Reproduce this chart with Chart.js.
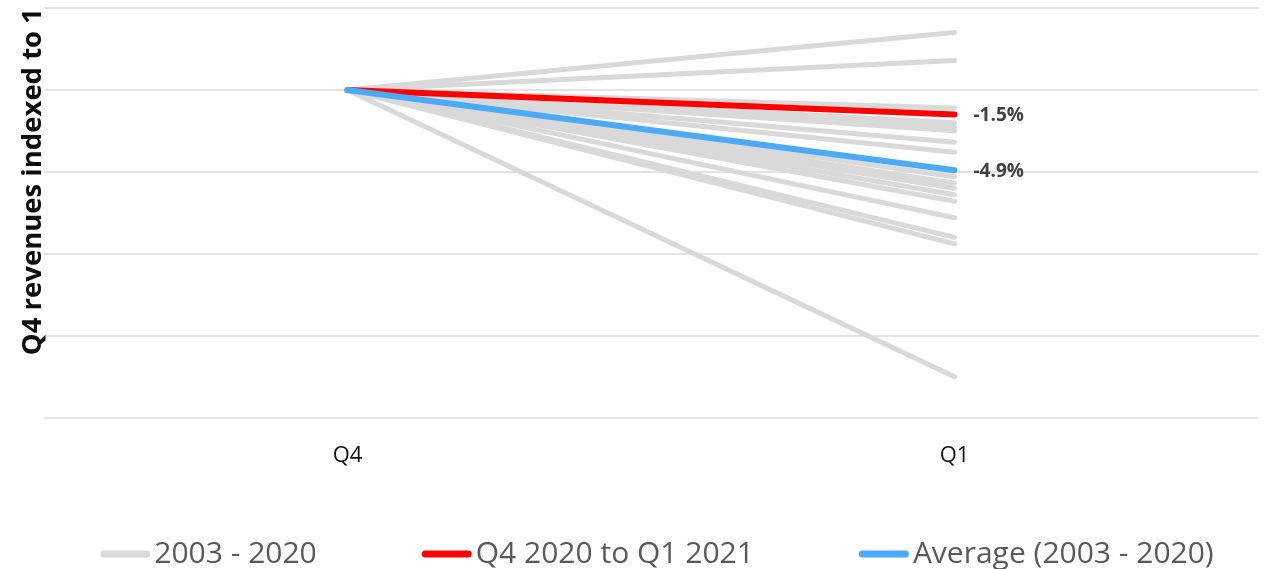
<!DOCTYPE html>
<html>
<head>
<meta charset="utf-8">
<script src="https://cdn.jsdelivr.net/npm/chart.js@4/dist/chart.umd.min.js"></script>
<style>
  html, body { margin: 0; padding: 0; background: #ffffff; }
  #wrap { width: 1266px; height: 569px; position: relative; }
</style>
</head>
<body>
<div id="wrap"><canvas id="chart"></canvas></div>
<script>
// Quarters on the x axis
const quarters = ['Q4', 'Q1'];

// Q1 revenue relative to the preceding Q4 (Q4 = 1), one line per year, 2003 - 2020
const historyQ1 = [
  1.035, 1.018, 0.989, 0.980, 0.977, 0.975, 0.968, 0.962, 0.947,
  0.943, 0.940, 0.936, 0.932, 0.922, 0.910, 0.906, 0.825
];

// Q4 2020 to Q1 2021
const latestQ1 = 0.985;

// Average over 2003 - 2020
const averageQ1 = 0.951;

// Legend entries
const legendNames = ['2003 - 2020', 'Q4 2020 to Q1 2021', 'Average (2003 - 2020)'];

const GREY = '#d9d9d9';
const RED = '#ff0000';
const BLUE = '#4aaaf5';
const legendColors = [GREY, RED, BLUE];

const datasets = historyQ1.map(v => ({
  label: legendNames[0],
  data: [1, v],
  borderColor: GREY,
  borderWidth: 5,
  order: 2
}));
datasets.push({
  label: legendNames[1],
  data: [1, latestQ1],
  borderColor: RED,
  borderWidth: 6,
  order: 1,
  showChange: true
});
datasets.push({
  label: legendNames[2],
  data: [1, averageQ1],
  borderColor: BLUE,
  borderWidth: 6,
  order: 0,
  showChange: true
});

// Writes the percentage change next to the end of the highlighted lines
const changeLabels = {
  id: 'changeLabels',
  afterDatasetsDraw(chart) {
    const ctx = chart.ctx;
    ctx.save();
    ctx.font = 'bold 19px "Open Sans"';
    ctx.fillStyle = '#404040';
    ctx.textAlign = 'left';
    ctx.textBaseline = 'middle';
    chart.data.datasets.forEach((ds, i) => {
      if (!ds.showChange) return;
      const meta = chart.getDatasetMeta(i);
      const pt = meta.data[1];
      const pct = (ds.data[1] - ds.data[0]) * 100;
      ctx.fillText(pct.toFixed(1) + '%', pt.x + 19, pt.y + 1);
    });
    ctx.restore();
  }
};

// Legend row under the chart: short line sample followed by the series name
const lineLegend = {
  id: 'lineLegend',
  afterDraw(chart) {
    const ctx = chart.ctx;
    const sampleW = 50, sampleH = 7, textGap = 4, itemGap = 105;
    ctx.save();
    ctx.font = '30px "Open Sans"';
    const widths = legendNames.map(t => ctx.measureText(t).width);
    const total = widths.reduce((a, w) => a + sampleW + textGap + w, 0) + itemGap * (legendNames.length - 1);
    const centre = (chart.chartArea.left + chart.chartArea.right) / 2 + 6;
    let x = centre - total / 2;
    const y = chart.height - 15;
    ctx.textAlign = 'left';
    ctx.textBaseline = 'middle';
    legendNames.forEach((name, i) => {
      ctx.strokeStyle = legendColors[i];
      ctx.lineWidth = sampleH;
      ctx.lineCap = 'round';
      ctx.beginPath();
      ctx.moveTo(x + sampleH / 2, y);
      ctx.lineTo(x + sampleW - sampleH / 2, y);
      ctx.stroke();
      ctx.fillStyle = '#595959';
      ctx.fillText(name, x + sampleW + textGap, y);
      x += sampleW + textGap + widths[i] + itemGap;
    });
    ctx.restore();
  }
};

new Chart(document.getElementById('chart'), {
  type: 'line',
  data: { labels: quarters, datasets },
  options: {
    responsive: true,
    maintainAspectRatio: false,
    animation: false,
    layout: { padding: { top: 8, right: 8, left: 0, bottom: 75 } },
    elements: {
      point: { radius: 0, hoverRadius: 0 },
      line: { borderCapStyle: 'round', borderJoinStyle: 'round', tension: 0 }
    },
    scales: {
      x: {
        offset: true,
        grid: { display: false, drawTicks: false },
        border: { display: false },
        ticks: {
          padding: 25,
          color: '#111111',
          font: { family: '"Open Sans"', size: 22 }
        }
      },
      y: {
        min: 0.80,
        max: 1.05,
        grid: { color: '#e3e3e3', lineWidth: 2, drawTicks: false },
        border: { display: false },
        ticks: { display: false, stepSize: 0.05 },
        title: {
          display: true,
          text: 'Q4 revenues indexed to 1',
          align: 'end',
          color: '#0d0d0d',
          font: { family: '"Open Sans"', size: 27.5, weight: 'bold', lineHeight: 0.8 },
          padding: { top: 22, bottom: 0 }
        }
      }
    },
    plugins: {
      tooltip: { enabled: false },
      legend: { display: false }
    }
  },
  plugins: [changeLabels, lineLegend]
});
</script>
</body>
</html>
